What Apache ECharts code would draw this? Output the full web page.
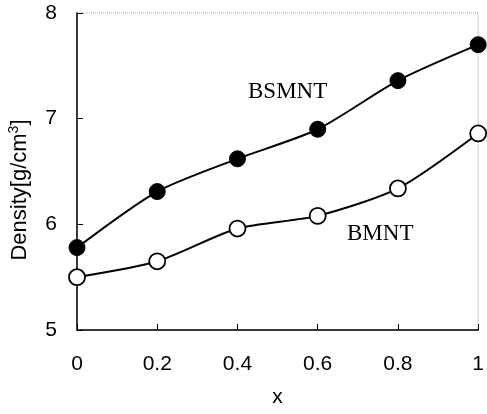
<!DOCTYPE html>
<html>
<head>
<meta charset="utf-8">
<script src="https://cdn.jsdelivr.net/npm/echarts@6/dist/echarts.min.js"></script>
<style>
  html, body { margin: 0; padding: 0; background: #fff; }
  #container { width: 487px; height: 414px; }
</style>
</head>
<body>
<div id="container"></div>
<script>
const xValues = [0, 0.2, 0.4, 0.6, 0.8, 1.0];
const bsmntDensity = [5.78, 6.31, 6.62, 6.90, 7.36, 7.70];
const bmntDensity = [5.50, 5.65, 5.96, 6.08, 6.34, 6.86];

const sansFont = "'Liberation Sans', Arial, sans-serif";
const serifFont = "'Liberation Serif', 'Times New Roman', serif";

function pairs(xs, ys) {
  return xs.map((x, i) => [x, ys[i]]);
}

const chart = echarts.init(document.getElementById("container"));

const option = {
  animation: false,
  backgroundColor: "#fff",
  grid: {
    left: 77,
    right: 5,
    top: 13,
    bottom: 84,
    show: true,
    borderColor: "#999",
    borderType: "dotted",
    borderWidth: 1,
  },
  xAxis: {
    type: "value",
    min: 0,
    max: 1,
    interval: 0.2,
    name: "x",
    nameLocation: "middle",
    nameGap: 57,
    nameTextStyle: { color: "#000", fontSize: 21, fontFamily: sansFont },
    axisLine: { show: true, lineStyle: { color: "#000", width: 1.5 } },
    axisTick: { show: true, inside: true, length: 6, lineStyle: { color: "#000" } },
    axisLabel: { color: "#000", fontSize: 21, fontFamily: sansFont, margin: 24 },
    splitLine: { show: false },
  },
  yAxis: {
    type: "value",
    min: 5,
    max: 8,
    interval: 1,
    axisLine: { show: true, lineStyle: { color: "#000", width: 1.5 } },
    axisTick: { show: true, inside: true, length: 6, lineStyle: { color: "#000" } },
    axisLabel: { color: "#000", fontSize: 21, fontFamily: sansFont, margin: 20 },
    splitLine: { show: false },
  },
  graphic: [
    {
      type: "text",
      x: 20,
      y: 190,
      rotation: Math.PI / 2,
      style: {
        text: "{a|Density[g/cm}{s|3}{a|]}",
        align: "center",
        verticalAlign: "middle",
        fill: "#000",
        rich: {
          a: { fontSize: 22, fontFamily: sansFont, fill: "#000" },
          s: { fontSize: 14, fontFamily: sansFont, fill: "#000", padding: [0, 0, 12, 0] },
        },
      },
    },
    {
      type: "text",
      x: 248,
      y: 92,
      style: {
        text: "BSMNT",
        verticalAlign: "middle",
        fill: "#000",
        fontSize: 23,
        fontFamily: serifFont,
      },
    },
    {
      type: "text",
      x: 347,
      y: 234,
      style: {
        text: "BMNT",
        verticalAlign: "middle",
        fill: "#000",
        fontSize: 23,
        fontFamily: serifFont,
      },
    },
  ],
  series: [
    {
      name: "BSMNT",
      type: "line",
      smooth: 0.25,
      data: pairs(xValues, bsmntDensity),
      symbol: "circle",
      symbolSize: 16,
      itemStyle: { color: "#000", borderColor: "#000", borderWidth: 1 },
      lineStyle: { color: "#000", width: 2 },
      clip: false,
      z: 3,
    },
    {
      name: "BMNT",
      type: "line",
      smooth: 0.25,
      data: pairs(xValues, bmntDensity),
      symbol: "circle",
      symbolSize: 16,
      itemStyle: { color: "#fff", borderColor: "#000", borderWidth: 1.8 },
      lineStyle: { color: "#000", width: 2 },
      clip: false,
      z: 3,
    },
  ],
};

chart.setOption(option);
</script>
</body>
</html>
